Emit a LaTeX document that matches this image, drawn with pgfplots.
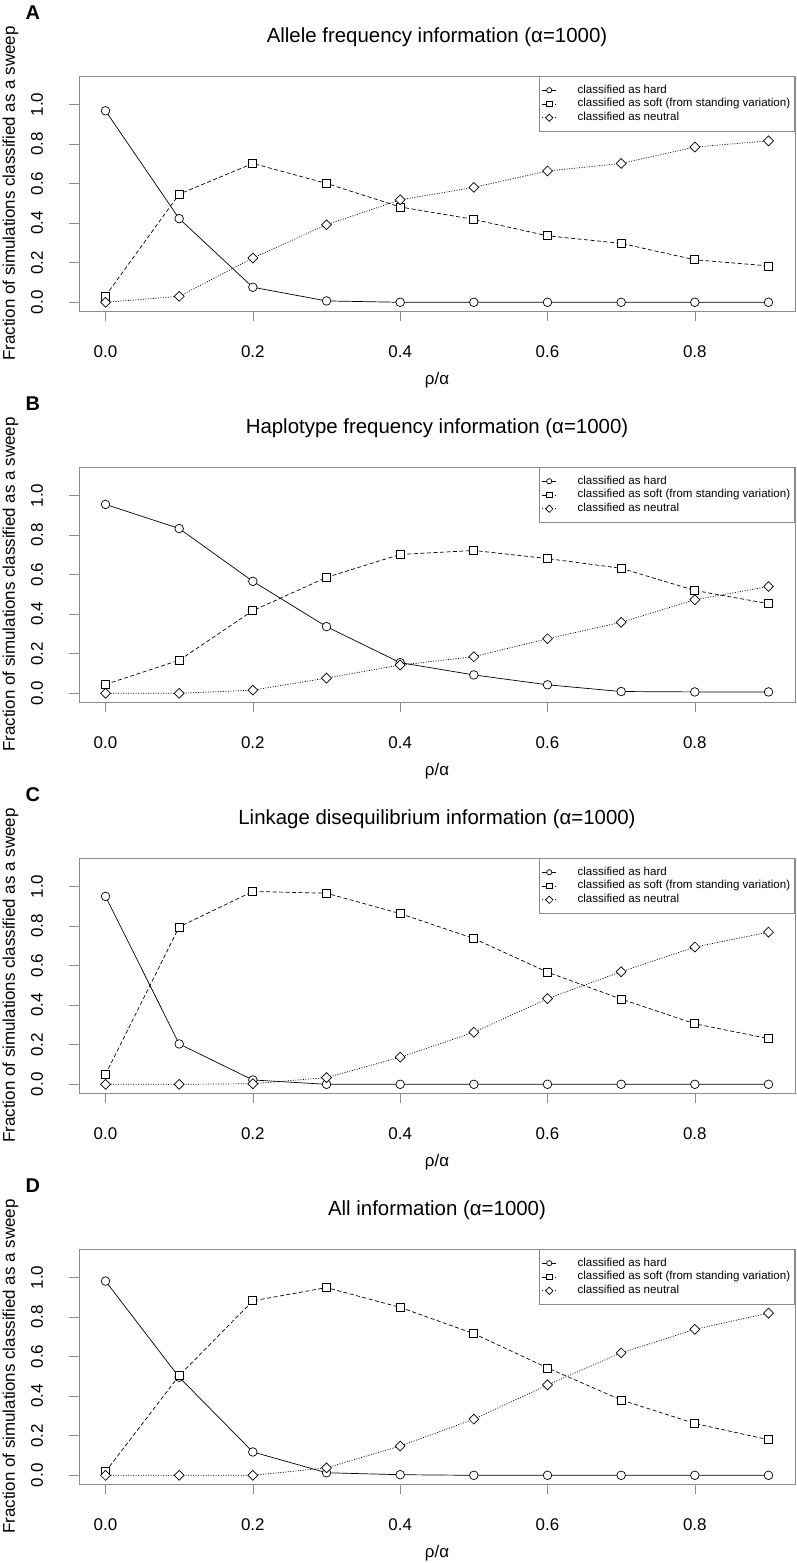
\documentclass[border=0pt]{standalone}
\usepackage{fontspec}
\setmainfont{Liberation Sans}
\usepackage{pgfplots}
\usepackage{pgfplotstable}
\pgfplotsset{compat=1.18}

\pgfplotstableread{
x hard soft neutral
0.0 0.968 0.032 0.000
0.1 0.423 0.547 0.030
0.2 0.076 0.702 0.224
0.3 0.007 0.601 0.392
0.4 0.000 0.482 0.518
0.5 0.000 0.419 0.581
0.6 0.000 0.336 0.664
0.7 0.000 0.298 0.702
0.8 0.000 0.215 0.785
0.9 0.000 0.184 0.816
}\dataA

\pgfplotstableread{
x hard soft neutral
0.0 0.955 0.045 0.000
0.1 0.833 0.167 0.000
0.2 0.566 0.418 0.016
0.3 0.337 0.586 0.077
0.4 0.155 0.702 0.143
0.5 0.093 0.722 0.185
0.6 0.043 0.681 0.276
0.7 0.009 0.632 0.359
0.8 0.007 0.520 0.473
0.9 0.007 0.453 0.540
}\dataB

\pgfplotstableread{
x hard soft neutral
0.0 0.950 0.050 0.000
0.1 0.204 0.796 0.000
0.2 0.022 0.975 0.003
0.3 0.000 0.966 0.034
0.4 0.000 0.863 0.137
0.5 0.000 0.737 0.263
0.6 0.000 0.567 0.433
0.7 0.000 0.431 0.569
0.8 0.000 0.306 0.694
0.9 0.000 0.231 0.769
}\dataC

\pgfplotstableread{
x hard soft neutral
0.0 0.982 0.018 0.000
0.1 0.496 0.504 0.000
0.2 0.118 0.882 0.000
0.3 0.013 0.949 0.038
0.4 0.003 0.849 0.148
0.5 0.000 0.716 0.284
0.6 0.000 0.543 0.457
0.7 0.000 0.381 0.619
0.8 0.000 0.262 0.738
0.9 0.000 0.180 0.820
}\dataD

\pgfplotsset{
  panel/.style={
    width=716bp, height=235bp, scale only axis,
    xmin=-0.036, xmax=0.936, ymin=-0.044, ymax=1.144,
    axis line style={black!45, line width=0.6bp},
    tick align=outside, major tick length=10bp,
    every tick/.style={black!45, line width=0.6bp},
    xtick={0,0.2,0.4,0.6,0.8}, xticklabels={0.0,0.2,0.4,0.6,0.8},
    ytick={0,0.2,0.4,0.6,0.8,1.0}, yticklabels={0.0,0.2,0.4,0.6,0.8,1.0},
    xtick pos=bottom, ytick pos=left,
    ticklabel style={font=\fontsize{17}{20}\selectfont},
    xticklabel style={anchor=base, yshift=-36bp},
    yticklabel style={xshift=-26bp, rotate=90, anchor=base},
    clip=false,
    legend cell align=left,
    legend style={at={(rel axis cs:1,1)}, anchor=north east,
      draw=black!45, line width=0.6bp,
      font=\fontsize{11.6}{13}\selectfont,
      inner xsep=3bp, inner ysep=7bp, row sep=0bp, column sep=19.5bp,
      nodes={inner sep=1.5bp, text height=8.3bp, text depth=2.5bp}},
    legend image code/.code={\draw[mark repeat=2,mark phase=2,#1] plot coordinates {(0bp,0bp) (7bp,0bp) (14bp,0bp)};},
    legend image post style={mark size=2.6bp},
  },
  hard/.style={black, line width=0.7bp, mark=*, mark size=4.3bp, mark options={solid, fill=white, draw=black}},
  soft/.style={black, line width=0.7bp, dash pattern=on 4bp off 2.5bp, mark=square*, mark size=4bp, mark options={solid, fill=white, draw=black}},
  neutral/.style={black, line width=0.7bp, dash pattern=on 1bp off 1.5bp, mark=square*, mark size=3.5bp, mark options={solid, fill=white, draw=black, rotate=45}},
}

\newcommand{\panelextras}[2]{%
  \node[yshift=34bp, anchor=base, font=\fontsize{20.5}{24}\selectfont] at (rel axis cs:0.5,1) {#2};
  \node[xshift=-57bp, yshift=56.7bp, anchor=base west, font=\bfseries\fontsize{20}{22}\selectfont] at (rel axis cs:0,1) {#1};
  \node[xshift=-64bp, rotate=90, anchor=base, font=\fontsize{17}{20}\selectfont] at (rel axis cs:0,0.5) {Fraction of simulations classified as a sweep};
  \node[yshift=-73bp, anchor=base, font=\fontsize{17}{20}\selectfont] at (rel axis cs:0.5,0) {ρ/α};
}

\newcommand{\panelplots}[1]{%
  \addplot[hard] table[x=x, y=hard] {#1};
  \addplot[soft] table[x=x, y=soft] {#1};
  \addplot[neutral] table[x=x, y=neutral] {#1};
  \legend{classified as hard, classified as soft (from standing variation), classified as neutral}
}

\begin{document}
\begin{tikzpicture}
\path[use as bounding box] (0bp,0bp) rectangle (797bp,-1563bp);

\begin{axis}[panel, at={(79bp,-76bp)}, anchor=north west]
\panelplots{\dataA}
\panelextras{A}{Allele frequency information (α=1000)}
\end{axis}

\begin{axis}[panel, at={(79bp,-467bp)}, anchor=north west]
\panelplots{\dataB}
\panelextras{B}{Haplotype frequency information (α=1000)}
\end{axis}

\begin{axis}[panel, at={(79bp,-858bp)}, anchor=north west]
\panelplots{\dataC}
\panelextras{C}{Linkage disequilibrium information (α=1000)}
\end{axis}

\begin{axis}[panel, at={(79bp,-1249bp)}, anchor=north west]
\panelplots{\dataD}
\panelextras{D}{All information (α=1000)}
\end{axis}
\end{tikzpicture}
\end{document}
